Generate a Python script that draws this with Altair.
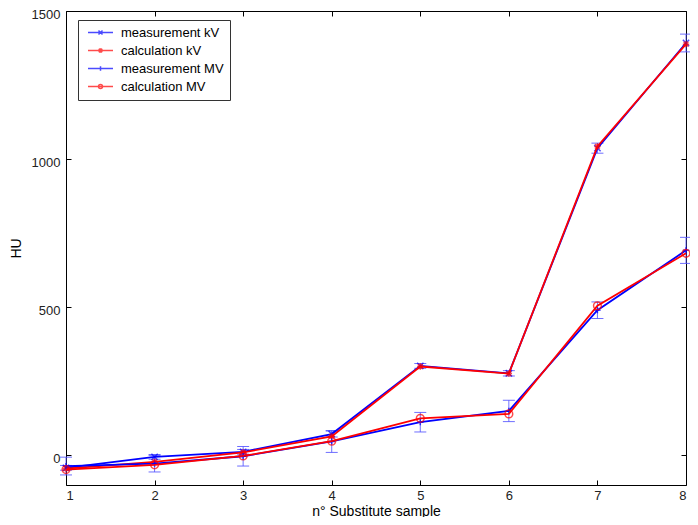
import altair as alt
import pandas as pd

samples = [1, 2, 3, 4, 5, 6, 7, 8]
series_names = ["measurement kV", "calculation kV", "measurement MV", "calculation MV"]
meas_kv = [-42, -5, 12, 72, 302, 277, 1037, 1392]
meas_kv_err = [8, 8, 8, 10, 8, 9, 17, 30]
calc_kv = [-45, -22, 10, 64, 300, 276, 1043, 1388]
meas_mv = [-36, -28, -3, 47, 112, 150, 490, 692]
meas_mv_err = [30, 28, 33, 37, 33, 36, 28, 44]
calc_mv = [-48, -32, -2, 48, 125, 140, 505, 682]

colors = ["#0000ff", "#ff0000", "#0000ff", "#ff0000"]
marker_paths = [
    "M-1,-1L1,1M-1,1L1,-1",
    "M-1,0H1M0,-1V1M-0.75,-0.75L0.75,0.75M-0.75,0.75L0.75,-0.75",
    "M-1,0H1M0,-1V1",
    "circle",
]
legend_paths = [
    "M-2.5,0H2.5M-0.4,-0.4L0.4,0.4M-0.4,0.4L0.4,-0.4",
    "M-2.5,0H2.5M0,-0.45V0.45M-0.35,-0.35L0.35,0.35M-0.35,0.35L0.35,-0.35",
    "M-2.5,0H2.5M0,-0.45V0.45",
    "M-2.5,0H2.5M0.4,0A0.4,0.4,0,1,1,-0.4,0A0.4,0.4,0,1,1,0.4,0",
]

values = [meas_kv, calc_kv, meas_mv, calc_mv]
errors = [meas_kv_err, None, meas_mv_err, None]

W, H = 620, 474

rows = []
for name, vals, errs in zip(series_names, values, errors):
    for i, (s, v) in enumerate(zip(samples, vals)):
        e = errs[i] if errs is not None else 0
        rows.append({"sample": s, "HU": v, "lo": v - e, "hi": v + e, "series": name})
df = pd.DataFrame(rows)

x_scale = alt.Scale(domain=[1, 8], nice=False, zero=False)
y_scale = alt.Scale(domain=[-100, 1500], nice=False, zero=False)

x_axis = alt.Axis(
    values=samples, format="d", title="n\u00b0 Substitute sample",
    grid=True, gridDash=[5, H - 10, 5, 3000], gridColor="#000", gridWidth=1, gridOpacity=1,
    ticks=False, domain=False, labelPadding=4, labelFontSize=13,
    labelFont="Liberation Sans", labelColor="#222",
    titleFont="Liberation Sans", titleFontSize=14, titleFontWeight="normal",
    titleColor="#000", titleY=26, titleBaseline="middle",
)
y_axis = alt.Axis(
    values=[0, 500, 1000, 1500], format="d", title="HU",
    grid=True, gridDash=[5, W - 10, 5, 3000], gridColor="#000", gridWidth=1, gridOpacity=1,
    ticks=False, domain=False, labelPadding=6, labelOffset=3.5, labelFontSize=13,
    labelFont="Liberation Sans", labelColor="#222",
    titleFont="Liberation Sans", titleFontSize=14, titleFontWeight="normal",
    titleColor="#000", titleX=-43, titleY=H / 2,
)

x_enc = alt.X("sample:Q", scale=x_scale, axis=x_axis, title="n\u00b0 Substitute sample")
y_enc = alt.Y("HU:Q", scale=y_scale, axis=y_axis, title="HU")

layers = []
for name, errs in zip(series_names, errors):
    d = df[df["series"] == name]
    if errs is not None:
        layers.append(
            alt.Chart(d).mark_errorbar(ticks={"size": 12}, color="#5555ff", opacity=0.85, thickness=1)
            .encode(x=x_enc, y=alt.Y("lo:Q", scale=y_scale, axis=y_axis, title="HU"), y2="hi:Q")
        )
for name, c, mp in zip(series_names, colors, marker_paths):
    d = df[df["series"] == name]
    layers.append(alt.Chart(d).mark_line(color=c, strokeWidth=1.8).encode(x=x_enc, y=y_enc))
    if mp == "circle":
        layers.append(alt.Chart(d).mark_point(shape="circle", filled=False, color=c, size=60, strokeWidth=1.5).encode(x=x_enc, y=y_enc))
    else:
        layers.append(alt.Chart(d).mark_point(shape=mp, filled=False, color=c, size=40, strokeWidth=1.5).encode(x=x_enc, y=y_enc))

leg = alt.Legend(title=None)
legend_layer = alt.Chart(df).transform_filter("false").mark_point(filled=False, size=174, strokeWidth=1.5).encode(
    x=x_enc, y=y_enc,
    color=alt.Color("series:N", scale=alt.Scale(domain=series_names, range=colors), legend=leg),
    shape=alt.Shape("series:N", scale=alt.Scale(domain=series_names, range=legend_paths), legend=leg),
)
layers.append(legend_layer)

chart = alt.layer(*layers).properties(
    width=W, height=H,
    padding={"left": 58, "top": 3, "right": 4, "bottom": 32},
    autosize=alt.AutoSizeParams(type="none"),
).configure_view(stroke="#000", strokeWidth=1).configure_legend(
    orient="none", legendX=12, legendY=9, strokeColor="#333", fillColor="white",
    padding=6, rowPadding=4, symbolOffset=10, labelOffset=14,
    labelFont="Liberation Sans", labelFontSize=13, labelColor="#000", symbolStrokeWidth=1.5,
)

chart.save("out.html", embed_options={"renderer": "svg", "actions": False})
